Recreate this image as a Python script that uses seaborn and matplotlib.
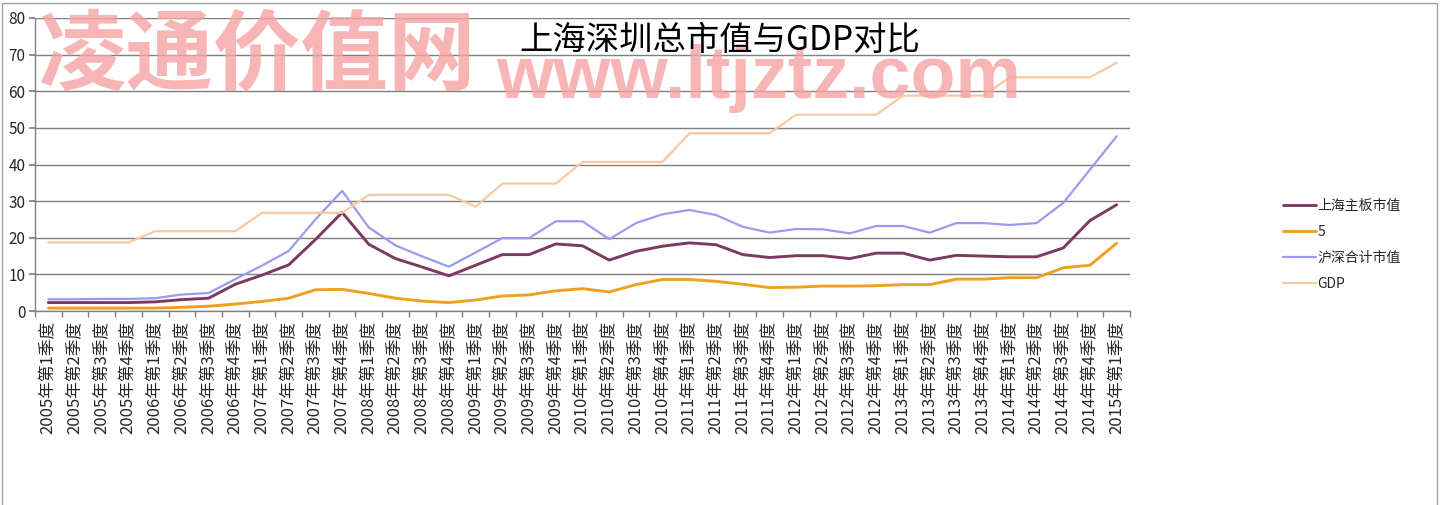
import numpy as np
import pandas as pd
import matplotlib
matplotlib.use("Agg")
import matplotlib.pyplot as plt
import seaborn as sns
from matplotlib.patches import Rectangle

# quarter labels, 2005Q1 .. 2015Q1
quarters = [f"{y}年第{q}季度" for y in range(2005, 2015) for q in range(1, 5)] + ["2015年第1季度"]

sh_main = [2.3, 2.3, 2.3, 2.3, 2.5, 3.1, 3.5, 7.3, 9.8, 12.6,
           19.5, 26.9, 18.2, 14.3, 12.0, 9.6, 12.5, 15.4, 15.4, 18.3,
           17.8, 13.9, 16.3, 17.7, 18.6, 18.1, 15.4, 14.6, 15.1, 15.1,
           14.3, 15.8, 15.8, 13.9, 15.2, 15.0, 14.8, 14.8, 17.2, 24.7,
           29.0]
series_5 = [0.8, 0.8, 0.8, 0.8, 0.8, 1.0, 1.3, 1.9, 2.6, 3.5,
            5.8, 5.9, 4.8, 3.5, 2.7, 2.3, 3.0, 4.1, 4.4, 5.5,
            6.1, 5.2, 7.2, 8.6, 8.6, 8.1, 7.3, 6.4, 6.5, 6.8,
            6.8, 6.9, 7.2, 7.2, 8.7, 8.7, 9.1, 9.1, 11.8, 12.5,
            18.5]
sh_sz_total = [3.2, 3.2, 3.3, 3.3, 3.5, 4.5, 4.9, 8.7, 12.4, 16.4,
               25.0, 32.8, 22.8, 17.9, 14.9, 12.1, 16.0, 19.9, 19.9, 24.5,
               24.5, 19.6, 24.0, 26.4, 27.6, 26.2, 23.0, 21.4, 22.4, 22.3,
               21.2, 23.2, 23.2, 21.4, 24.0, 24.0, 23.5, 24.0, 29.5, 38.6,
               47.7]
gdp = [18.7, 18.7, 18.7, 18.7, 21.8, 21.8, 21.8, 21.8, 26.8, 26.8,
       26.8, 26.8, 31.7, 31.7, 31.7, 31.7, 28.5, 34.8, 34.8, 34.8,
       40.7, 40.7, 40.7, 40.7, 48.5, 48.5, 48.5, 48.5, 53.6, 53.6,
       53.6, 53.6, 58.8, 58.8, 58.8, 58.8, 63.8, 63.8, 63.8, 63.8,
       67.8]

series_names = ["上海主板市值", "5", "沪深合计市值", "GDP"]
colors = ["#7B3A60", "#F0A020", "#9A9AEE", "#F8C9A0"]
widths = [2.1, 2.1, 1.6, 1.6]

sns.set_theme(style="white")
plt.rcParams["font.family"] = ["Noto Sans CJK SC", "DejaVu Sans"]

fig = plt.figure(figsize=(14.43, 5.05), dpi=100)
ax = fig.add_axes([35 / 1443, 1 - 311 / 505, (1130 - 35) / 1443, (311 - 18) / 505])

idx = np.arange(len(quarters))
for name, vals, c, lw in zip(series_names, [sh_main, series_5, sh_sz_total, gdp], colors, widths):
    df = pd.DataFrame({"idx": idx, "value": vals})
    sns.lineplot(data=df, x="idx", y="value", color=c, linewidth=lw, label=name, ax=ax)

handles, labels = ax.get_legend_handles_labels()
if ax.get_legend() is not None:
    ax.get_legend().remove()

ax.set_xlim(-0.5, len(quarters) - 0.5)
ax.set_ylim(0, 80)
ax.set_yticks(range(0, 81, 10))
ax.set_xticks(idx)
ax.set_xticklabels(quarters, rotation=90, fontsize=12)
ax.set_xticks(np.arange(-0.5, len(quarters), 1), minor=True)
ax.tick_params(axis="x", which="major", length=0, pad=7)
ax.tick_params(axis="x", which="minor", bottom=True, length=4, color="#808080", direction="out")
ax.tick_params(axis="y", left=True, length=4, color="#808080", direction="out", labelsize=11, pad=3)
ax.set_xlabel("")
ax.set_ylabel("")
ax.grid(axis="y", color="#7f7f7f", linewidth=1.0)
ax.grid(axis="x", visible=False)
for s in ["top", "right"]:
    ax.spines[s].set_visible(False)
for s in ["left", "bottom"]:
    ax.spines[s].set_color("#808080")
    ax.spines[s].set_linewidth(1.0)

fig.legend(handles, labels, loc="center left", bbox_to_anchor=(1283 / 1443, 1 - 245 / 505),
           frameon=False, fontsize=10, handlelength=2.4, handletextpad=0.1,
           labelspacing=0.85, borderpad=0, borderaxespad=0)

# watermark
fig.text(38 / 1443, 1 - 58 / 505, "凌通价值网", fontsize=63, fontweight="bold",
         color="#F5A3A3", alpha=0.8, ha="left", va="center")
fig.text(496 / 1443, 1 - 98 / 505, "www.ltjztz.com", fontsize=53, fontweight="bold",
         family="Liberation Sans", color="#F5A3A3", alpha=0.8, ha="left", va="baseline")

fig.text(720 / 1443, 1 - 40 / 505, "上海深圳总市值与GDP对比", fontsize=24,
         color="black", ha="center", va="center")

fig.patches.append(Rectangle((2 / 1443, -0.01), 1435 / 1443, 1.0 - 3 / 505 + 0.01,
                             transform=fig.transFigure, fill=False,
                             edgecolor="#a0a0a0", linewidth=1.0))

fig.savefig("out.png", dpi=100)
